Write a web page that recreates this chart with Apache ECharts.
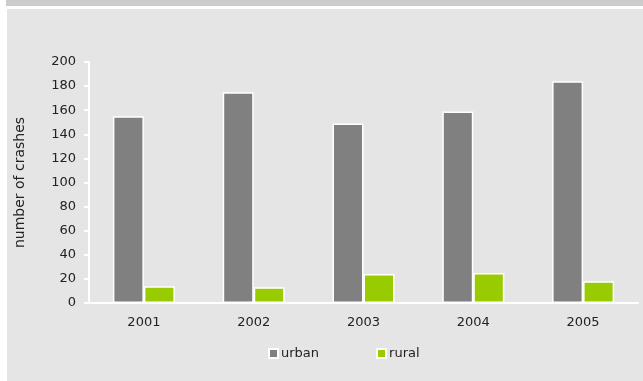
<!DOCTYPE html>
<html>
<head>
<meta charset="utf-8">
<script src="https://cdn.jsdelivr.net/npm/echarts@6/dist/echarts.min.js"></script>
<style>
html,body{margin:0;padding:0;background:#fff;}
#c{width:643px;height:381px;}
</style>
</head>
<body>
<div id="c"></div>
<script>
var years = ['2001', '2002', '2003', '2004', '2005'];
var urban = [155, 175, 149, 159, 184];
var rural = [14, 13, 24, 25, 18];
var yTicks = [0, 200, 20];

var chart = echarts.init(document.getElementById('c'), null, {renderer: 'canvas'});
var font = 'DejaVu Sans, Verdana, sans-serif';
chart.setOption({
  animation: false,
  backgroundColor: '#ffffff',
  graphic: [
    {type: 'rect', shape: {x: 6, y: 0, width: 637, height: 6}, style: {fill: '#cccccc'}, z: -10},
    {type: 'rect', shape: {x: 7, y: 9, width: 636, height: 372}, style: {fill: '#e5e5e5'}, z: -10}
  ],
  grid: {left: 89, right: 5, top: 62, bottom: 78, containLabel: false},
  legend: {
    left: 263, top: 342,
    itemWidth: 9, itemHeight: 9, itemGap: 57,
    icon: 'rect',
    textStyle: {fontFamily: font, fontSize: 13, color: '#222', padding: [0, 0, 0, -2]},
    data: ['urban', 'rural']
  },
  xAxis: {
    type: 'category',
    data: years,
    axisLine: {show: true, lineStyle: {color: '#ffffff', width: 2}},
    axisTick: {show: false},
    axisLabel: {margin: 13, fontFamily: font, fontSize: 13, color: '#222'},
    splitLine: {show: false}
  },
  yAxis: {
    type: 'value',
    min: yTicks[0], max: yTicks[1], interval: yTicks[2],
    name: 'number of crashes',
    nameLocation: 'middle',
    nameGap: 62,
    nameTextStyle: {fontFamily: font, fontSize: 14, color: '#222'},
    axisLine: {show: true, lineStyle: {color: '#ffffff', width: 2}},
    axisTick: {show: true, length: 5, lineStyle: {color: '#ffffff', width: 2}},
    axisLabel: {margin: 13, fontFamily: font, fontSize: 13, color: '#222'},
    splitLine: {show: false}
  },
  series: [
    {
      name: 'urban', type: 'bar', data: urban,
      barWidth: 31, barGap: '0%',
      itemStyle: {color: '#808080', borderColor: '#ffffff', borderWidth: 1.5}
    },
    {
      name: 'rural', type: 'bar', data: rural,
      barWidth: 31,
      itemStyle: {color: '#99cc00', borderColor: '#ffffff', borderWidth: 1.5}
    }
  ]
});
</script>
</body>
</html>
